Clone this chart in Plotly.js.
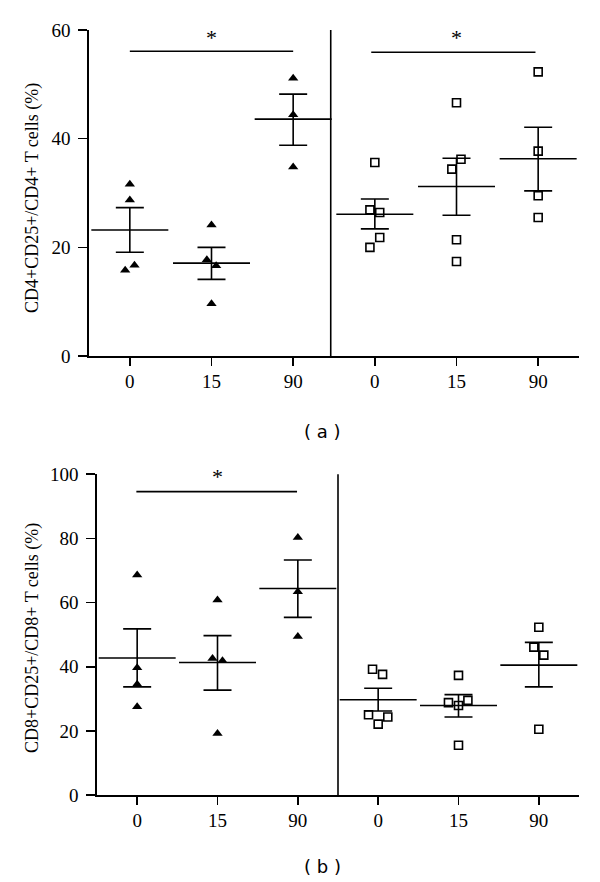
<!DOCTYPE html>
<html>
<head>
<meta charset="utf-8">
<script src="https://cdn.plot.ly/plotly-3.0.1.min.js"></script>
<style>html,body{margin:0;padding:0;background:#fff;}#chart{width:600px;height:882px;}</style>
</head>
<body>
<div id="chart"></div>
<script>
// ---- data ----
const categories = ['0', '15', '90', '0', '15', '90'];
const groupNames = ['Tri 0', 'Tri 15', 'Tri 90', 'Sq 0', 'Sq 15', 'Sq 90'];

// Panel (a): CD4+CD25+/CD4+ T cells (%)
const a_tri_0 = [31.6, 28.7, 15.8, 16.7];
const a_tri_15 = [24.1, 17.7, 16.6, 9.6];
const a_tri_90 = [51.1, 44.4, 34.8];
const a_sq_0 = [35.6, 26.9, 26.4, 21.8, 20.0];
const a_sq_15 = [46.6, 36.2, 34.4, 21.4, 17.4];
const a_sq_90 = [52.3, 37.7, 29.5, 25.5];
const a_mean = [23.2, 17.1, 43.6, 26.1, 31.2, 36.3];
const a_upper = [27.3, 20.0, 48.2, 28.9, 36.4, 42.1];
const a_lower = [19.1, 14.1, 38.8, 23.4, 25.9, 30.4];

// Panel (b): CD8+CD25+/CD8+ T cells (%)
const b_tri_0 = [68.6, 39.7, 34.5, 27.5];
const b_tri_15 = [60.8, 42.6, 41.9, 19.2];
const b_tri_90 = [80.3, 63.4, 49.4];
const b_sq_0 = [39.2, 37.6, 25.0, 24.3, 22.1];
const b_sq_15 = [37.3, 28.8, 29.5, 27.9, 15.5];
const b_sq_90 = [52.3, 46.1, 43.6, 20.5];
const b_mean = [42.7, 41.3, 64.4, 29.7, 27.9, 40.5];
const b_upper = [51.8, 49.7, 73.3, 33.3, 31.3, 47.6];
const b_lower = [33.7, 32.7, 55.4, 26.2, 24.3, 33.7];

// ---- style (horizontal jitter of the scatter dots, in category units) ----
const a_jitter = [
  [0, 0, -0.057, 0.057],
  [0, -0.057, 0.057, 0],
  [0, 0, 0],
  [0, -0.06, 0.06, 0.06, -0.06],
  [0, 0.055, -0.057, 0, 0],
  [0, 0, 0, 0]
];
const b_jitter = [
  [0, 0, 0, 0],
  [0, -0.062, 0.062, 0],
  [0, 0, 0],
  [-0.07, 0.055, -0.12, 0.12, 0],
  [0, -0.125, 0.117, 0, 0],
  [0, -0.062, 0.062, 0]
];

const positions = categories.map((c, i) => i + 1);
const SERIF = 'Liberation Serif, DejaVu Serif, serif';

function panelTraces(groups, jitter, mean, upper, lower, xa, ya) {
  const traces = [];
  groups.forEach((vals, g) => {
    const isTri = g < 3;
    traces.push({
      type: 'scatter', mode: 'markers', xaxis: xa, yaxis: ya,
      name: groupNames[g], showlegend: false, hoverinfo: 'y',
      x: vals.map((v, k) => positions[g] + jitter[g][k]),
      y: vals,
      marker: isTri
        ? {symbol: 'triangle-up', size: 9, color: '#000', line: {width: 0}}
        : {symbol: 'square', size: 8, color: 'rgba(255,255,255,0)', line: {width: 1.6, color: '#000'}}
    });
  });
  traces.push({
    type: 'scatter', mode: 'markers', xaxis: xa, yaxis: ya, showlegend: false,
    x: positions, y: mean,
    marker: {symbol: 'line-ew', size: 55, color: '#000', line: {width: 1.6, color: '#000'}},
    error_y: {
      type: 'data', symmetric: false,
      array: upper.map((u, i) => u - mean[i]),
      arrayminus: lower.map((l, i) => mean[i] - l),
      color: '#000', thickness: 1.6, width: 14
    }
  });
  return traces;
}

const data = [].concat(
  panelTraces([a_tri_0, a_tri_15, a_tri_90, a_sq_0, a_sq_15, a_sq_90], a_jitter, a_mean, a_upper, a_lower, 'x', 'y'),
  panelTraces([b_tri_0, b_tri_15, b_tri_90, b_sq_0, b_sq_15, b_sq_90], b_jitter, b_mean, b_upper, b_lower, 'x2', 'y2')
);

function xAxis(extra) {
  return Object.assign({
    range: [0.5, 6.5], tickvals: positions, ticktext: categories,
    showline: true, linecolor: '#000', linewidth: 1.6,
    ticks: 'outside', ticklen: 8, tickwidth: 1.6, tickcolor: '#000',
    showgrid: false, zeroline: false, fixedrange: true,
    tickfont: {family: SERIF, size: 19, color: '#000'}
  }, extra);
}
function yAxis(extra) {
  return Object.assign({
    showline: true, linecolor: '#000', linewidth: 1.6,
    ticks: 'outside', ticklen: 9, tickwidth: 1.6, tickcolor: '#000',
    ticklabelstandoff: 4,
    showgrid: false, zeroline: false, fixedrange: true,
    tickfont: {family: SERIF, size: 19, color: '#000'}
  }, extra);
}

const lineStyle = {color: '#000', width: 1.6};
const layout = {
  width: 600, height: 882,
  margin: {l: 0, r: 0, t: 0, b: 0},
  paper_bgcolor: '#fff', plot_bgcolor: '#fff',
  showlegend: false,
  xaxis: xAxis({domain: [89 / 600, 579 / 600], anchor: 'y'}),
  yaxis: yAxis({domain: [1 - 356 / 882, 1 - 30 / 882], range: [0, 60], tickvals: [0, 20, 40, 60], anchor: 'x'}),
  xaxis2: xAxis({domain: [97 / 600, 579 / 600], anchor: 'y2'}),
  yaxis2: yAxis({domain: [1 - 795 / 882, 1 - 474.3 / 882], range: [0, 100], tickvals: [0, 20, 40, 60, 80, 100], anchor: 'x2'}),
  shapes: [
    {type: 'line', xref: 'x', yref: 'y', x0: 3.46, x1: 3.46, y0: 0, y1: 60.4, line: lineStyle},
    {type: 'line', xref: 'x', yref: 'y', x0: 1.0, x1: 3.0, y0: 56.1, y1: 56.1, line: lineStyle},
    {type: 'line', xref: 'x', yref: 'y', x0: 3.956, x1: 5.967, y0: 55.9, y1: 55.9, line: lineStyle},
    {type: 'line', xref: 'x2', yref: 'y2', x0: 3.5, x1: 3.5, y0: 0, y1: 102.1, line: lineStyle},
    {type: 'line', xref: 'x2', yref: 'y2', x0: 0.99, x1: 2.99, y0: 94.6, y1: 94.6, line: lineStyle}
  ],
  annotations: [
    {text: '*', xref: 'x', yref: 'y', x: 2, y: 58.7, showarrow: false, font: {family: SERIF, size: 22, color: '#000'}},
    {text: '*', xref: 'x', yref: 'y', x: 5, y: 58.7, showarrow: false, font: {family: SERIF, size: 22, color: '#000'}},
    {text: '*', xref: 'x2', yref: 'y2', x: 2, y: 99.2, showarrow: false, font: {family: SERIF, size: 22, color: '#000'}},
    {text: 'CD4+CD25+/CD4+ T cells (%)', xref: 'paper', yref: 'paper', x: 32 / 600, y: 1 - 198 / 882, textangle: -90, showarrow: false, xanchor: 'center', yanchor: 'middle', font: {family: SERIF, size: 18, color: '#000'}},
    {text: 'CD8+CD25+/CD8+ T cells (%)', xref: 'paper', yref: 'paper', x: 32 / 600, y: 1 - 638 / 882, textangle: -90, showarrow: false, xanchor: 'center', yanchor: 'middle', font: {family: SERIF, size: 18, color: '#000'}},
    {text: '( a )', xref: 'paper', yref: 'paper', x: 322 / 600, y: 1 - 431 / 882, showarrow: false, xanchor: 'center', yanchor: 'middle', font: {family: 'DejaVu Sans, sans-serif', size: 18, color: '#000'}},
    {text: '( b )', xref: 'paper', yref: 'paper', x: 322 / 600, y: 1 - 866 / 882, showarrow: false, xanchor: 'center', yanchor: 'middle', font: {family: 'DejaVu Sans, sans-serif', size: 18, color: '#000'}}
  ]
};

Plotly.newPlot('chart', data, layout, {staticPlot: true, displayModeBar: false});
</script>
</body>
</html>
